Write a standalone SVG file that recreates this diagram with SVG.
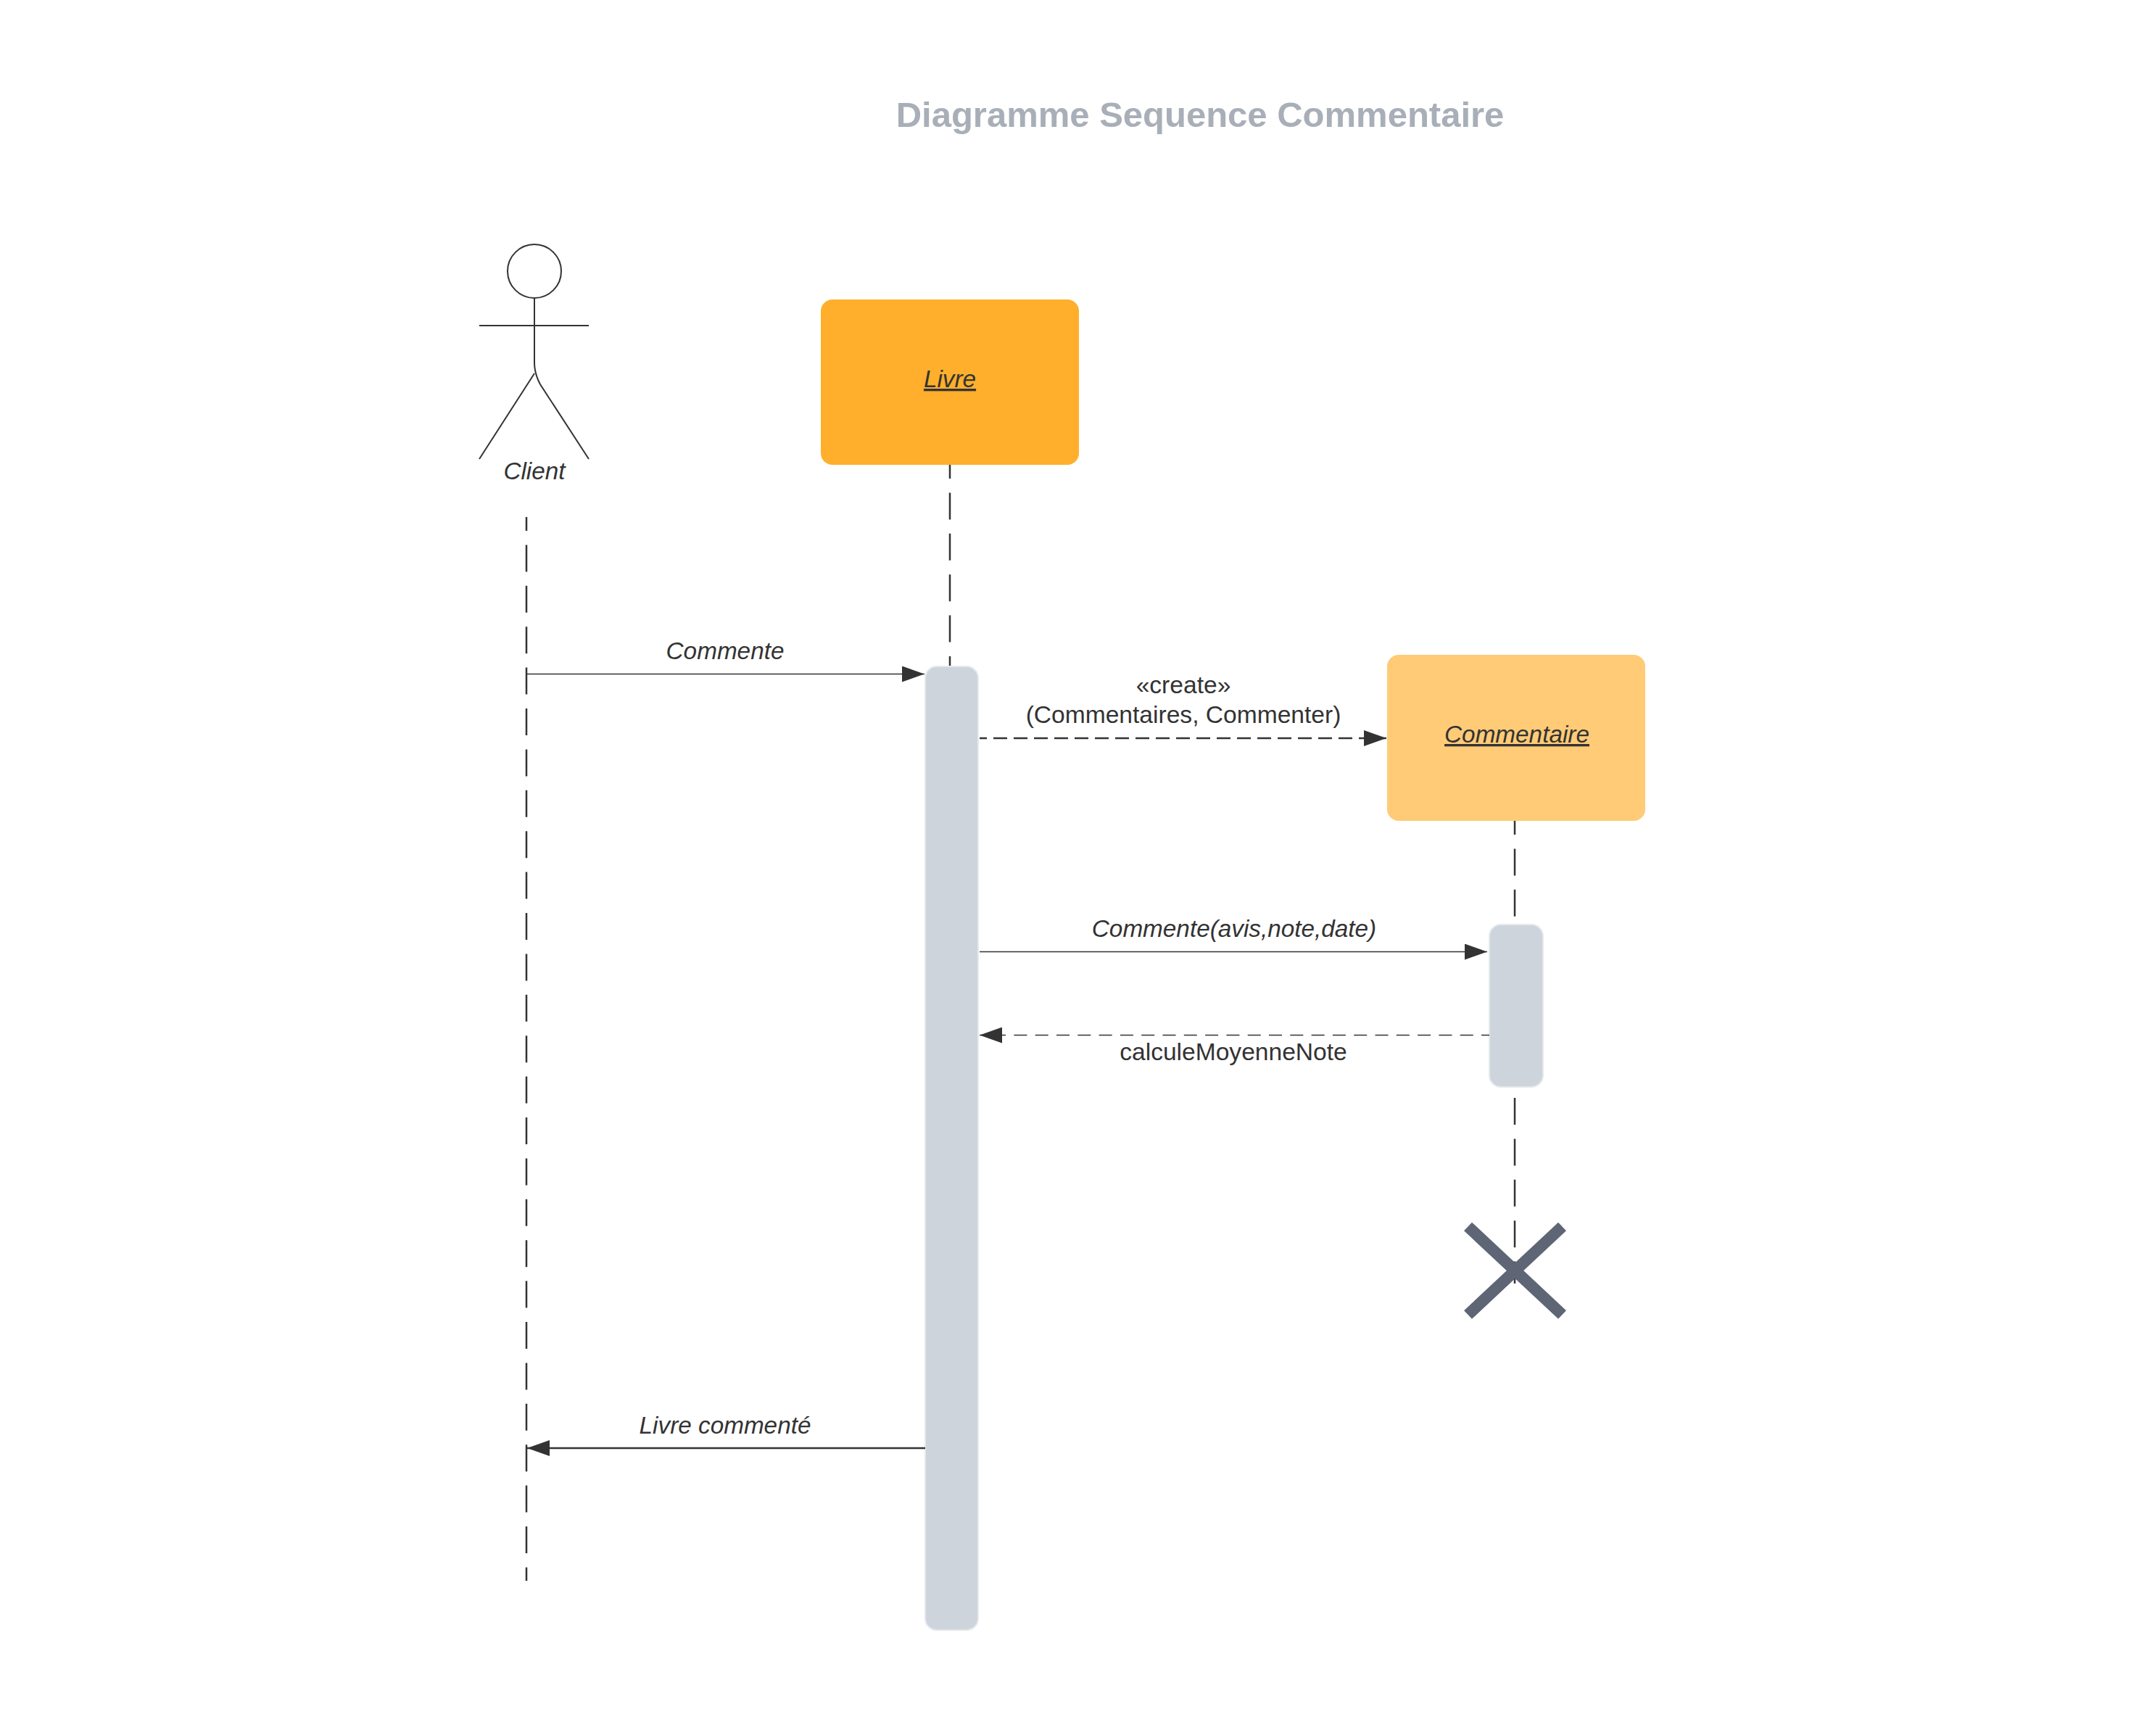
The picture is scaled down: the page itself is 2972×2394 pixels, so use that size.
<svg xmlns="http://www.w3.org/2000/svg" width="2972" height="2394" viewBox="0 0 2972 2394">
<style>
text{font-family:"Liberation Sans",Arial,sans-serif;font-size:33.600px;fill:#333;text-anchor:middle}
.i{font-style:italic;font-size:33.300px}
.u{text-decoration:underline}
.title{font-size:49px;font-weight:700;fill:#a9afb8}
.stick{fill:none;stroke:#333;stroke-width:2}
.life{fill:none;stroke:#333;stroke-width:2.500;stroke-dasharray:37 19.400}
.msg{fill:none;stroke:#333;stroke-width:1.500}
.act{fill:#ced4db;stroke:#e6e9ed;stroke-width:2}
</style>
<defs>
<marker id="ah" markerUnits="userSpaceOnUse" markerWidth="32" markerHeight="22" refX="31" refY="11" orient="auto"><path d="M0 0L31 11L0 22Z" fill="#333"/></marker>
</defs>
<rect width="2972" height="2394" fill="#fff"/>
<text class="title" x="1655" y="175">Diagramme Sequence Commentaire</text>
<g id="lifelines">
<path class="life" d="M726 713V2180" stroke-dashoffset="18"/>
<path class="life" d="M1310 641V919" stroke-dashoffset="18"/>
<path class="life" d="M2089 1132V1275" stroke-dashoffset="18"/>
<path class="life" d="M2089 1514V1770"/>
</g>
<g id="client">
<circle class="stick" cx="737" cy="374" r="37"/>
<path class="stick" d="M737 411V500Q737 515 745 530L812 633M661 449H812M737 515L661 633"/>
<text class="i" x="737" y="661">Client</text>
</g>
<g id="livre">
<rect x="1132" y="413" width="356" height="228" rx="16" fill="#ffaf2b"/>
<text class="i u" x="1310" y="534">Livre</text>
</g>
<g id="commentaire">
<rect x="1913" y="903" width="356" height="229" rx="16" fill="#ffcb77"/>
<text class="i u" x="2092" y="1024">Commentaire</text>
</g>
<g id="activation-livre"><rect class="act" x="1276" y="919" width="73" height="1329" rx="16"/></g>
<g id="activation-commentaire"><rect class="act" x="2054" y="1275" width="74" height="224" rx="16"/></g>
<g id="destroy"><path d="M2024.500 1691.500L2154.500 1813M2154.500 1691.500L2024.500 1813" stroke="#5e6675" stroke-width="16" fill="none"/></g>
<g id="connectors">
<path class="msg" d="M726 929.500H1275" marker-end="url(#ah)"/>
<text class="i" x="1000" y="908.500">Commente</text>
<path class="msg" style="stroke-width:2.500;stroke-dasharray:19 9;stroke-dashoffset:9" d="M1351 1018H1912" marker-end="url(#ah)"/>
<text x="1632" y="956">«create»</text>
<text x="1632" y="997">(Commentaires, Commenter)</text>
<path class="msg" d="M1351 1312.500H2051" marker-end="url(#ah)"/>
<text class="i" x="1702" y="1291.500">Commente(avis,note,date)</text>
<path class="msg" style="stroke-dasharray:18 11.300;stroke-dashoffset:7" d="M2054 1427.500H1351" marker-end="url(#ah)"/>
<text x="1701" y="1462">calculeMoyenneNote</text>
<path class="msg" style="stroke-width:2.500" d="M1276 1997H727" marker-end="url(#ah)"/>
<text class="i" x="1000" y="1977">Livre commenté</text>
</g>
</svg>
